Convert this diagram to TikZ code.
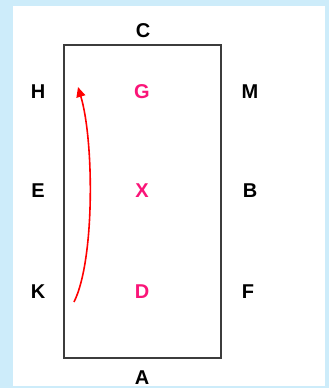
\documentclass[tikz,border=0pt]{standalone}
\usepackage{fontspec}
\setmainfont{Liberation Sans}
\usetikzlibrary{arrows.meta}
\definecolor{bgblue}{RGB}{205,236,250}
\definecolor{pinktxt}{RGB}{250,20,120}
\definecolor{framegray}{RGB}{60,60,60}
\tikzset{
  lbl/.style={font=\fontsize{20}{20}\selectfont\bfseries, text=black, inner sep=0pt},
  plbl/.style={lbl, text=pinktxt},
  field/.style={draw=framegray, line width=1.8pt, fill=white, inner sep=0pt},
  move/.style={draw=red, line width=1.6pt, -{Triangle[length=10pt,width=9pt]}}
}
\begin{document}
\begin{tikzpicture}[x=1pt,y=-1pt]
\useasboundingbox (0,0) rectangle (329,388);
\fill[bgblue] (0,0) rectangle (329,388);
\fill[white] (13,6) rectangle (325,386);
\node[field, minimum width=157pt, minimum height=313pt] (rect) at (142.5,201.5) {};
\node[lbl] (C) at (143,31) {C};
\node[lbl] (H) at (38,92) {H};
\node[plbl] (G) at (142,92) {G};
\node[lbl] (M) at (250,92) {M};
\node[lbl] (E) at (38,191) {E};
\node[plbl] (X) at (142,191) {X};
\node[lbl] (B) at (250,191) {B};
\node[lbl] (K) at (38,292) {K};
\node[plbl] (D) at (142,292) {D};
\node[lbl] (F) at (248,292) {F};
\node[lbl] (A) at (142,378) {A};
\coordinate (start) at (74,302);
\coordinate (stop) at (78,87);
\draw[move] (start) .. controls (95,260) and (94,140) .. (stop);
\end{tikzpicture}
\end{document}
